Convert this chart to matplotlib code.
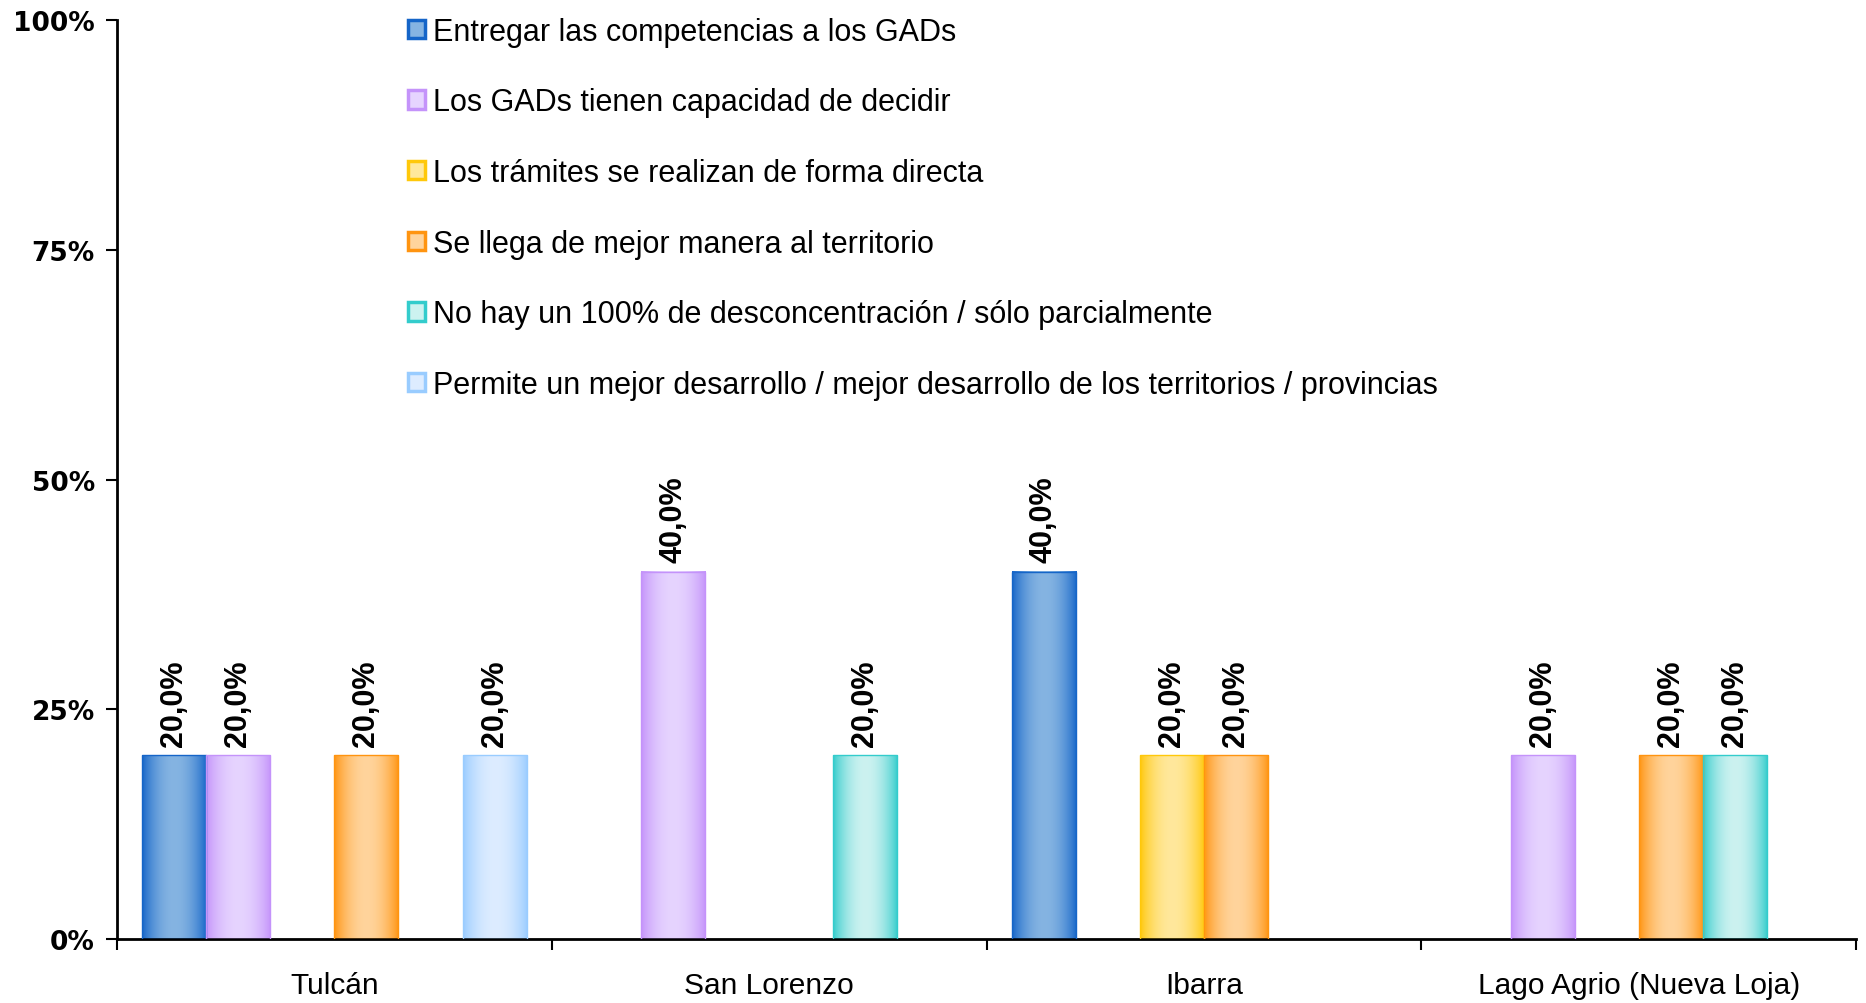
import numpy as np
import matplotlib
matplotlib.use('Agg')
import matplotlib.pyplot as plt
from matplotlib.patches import Patch
from matplotlib.colors import to_rgb

categories = ['Tulcán', 'San Lorenzo', 'Ibarra', 'Lago Agrio (Nueva Loja)']
series = ['Entregar las competencias a los GADs',
          'Los GADs tienen capacidad de decidir',
          'Los trámites se realizan de forma directa',
          'Se llega de mejor manera al territorio',
          'No hay un 100% de desconcentración / sólo parcialmente',
          'Permite un mejor desarrollo / mejor desarrollo de los territorios / provincias']
# values per series, one per category (%)
entregar = [20, 0, 40, 0]
capacidad = [20, 40, 0, 20]
tramites = [0, 0, 20, 0]
territorio = [20, 0, 20, 20]
no_hay = [0, 20, 0, 20]
desarrollo = [20, 0, 0, 0]
values = [entregar, capacidad, tramites, territorio, no_hay, desarrollo]

dark = ['#1565C8', '#C493FA', '#FFC80A', '#FF9410', '#33CCCC', '#99CCFF']
light = ['#85B4E2', '#E6D4FF', '#FFE89C', '#FFD49C', '#CCF2F0', '#DDECFF']

plt.rcParams['font.family'] = ['Liberation Sans', 'DejaVu Sans']

fig = plt.figure(figsize=(18.66, 10.04), dpi=100)
ax = fig.add_axes([0.0627, 0.0637, 0.932, 0.915])

x = np.arange(len(categories)) + 0.5
group = 0.884
w = group / len(series)


def gradient(c0, c1, n=64):
    t = np.linspace(0, 1, n)
    f = np.sin(np.pi * t) ** 0.8
    a, b = np.array(to_rgb(c0)), np.array(to_rgb(c1))
    return (a[None, :] * (1 - f[:, None]) + b[None, :] * f[:, None])[None, :, :]


for i, vals in enumerate(values):
    xs = x - group / 2 + w * (i + 0.5)
    bars = ax.bar(xs, vals, w, color='none', edgecolor=dark[i], linewidth=1, zorder=3)
    img = gradient(dark[i], light[i])
    for b, v in zip(bars, vals):
        if v == 0:
            b.set_visible(False)
            continue
        ax.imshow(img, extent=(b.get_x(), b.get_x() + b.get_width(), 0, b.get_height()),
                  aspect='auto', zorder=2, interpolation='bilinear')
        ax.annotate(f'{v:.1f}%'.replace('.', ','), (b.get_x() + b.get_width() / 2, v),
                    xytext=(0, 7), textcoords='offset points', rotation=90,
                    ha='center', va='bottom', fontsize=22, fontweight='bold',
                    family=['Liberation Sans Narrow', 'Liberation Sans'])

ax.set_xlim(0, len(categories))
ax.set_ylim(0, 100)
ax.set_yticks([0, 25, 50, 75, 100])
ax.set_yticklabels(['0%', '25%', '50%', '75%', '100%'], fontsize=19,
                   fontweight='bold', family='DejaVu Sans')
ax.set_xticks(np.arange(len(categories) + 1))
ax.set_xticklabels([])
ax.set_xticks(x, minor=True)
ax.set_xticklabels(categories, minor=True, fontsize=21.5)
ax.tick_params(axis='x', which='minor', length=0, pad=23)
ax.tick_params(axis='both', which='major', length=8, width=1.5, direction='out', pad=8)
for s in ['top', 'right']:
    ax.spines[s].set_visible(False)
ax.spines['left'].set_linewidth(2)
ax.spines['bottom'].set_linewidth(2)

handles = [Patch(facecolor=light[i], edgecolor=dark[i], linewidth=2.5) for i in range(len(series))]
ax.legend(handles, series, loc='upper left', bbox_to_anchor=(0.1515, 1.034), frameon=False,
          fontsize=22, handlelength=0.55, handleheight=0.55, handletextpad=0.28,
          labelspacing=1.33)

fig.savefig('out.png', dpi=100)
